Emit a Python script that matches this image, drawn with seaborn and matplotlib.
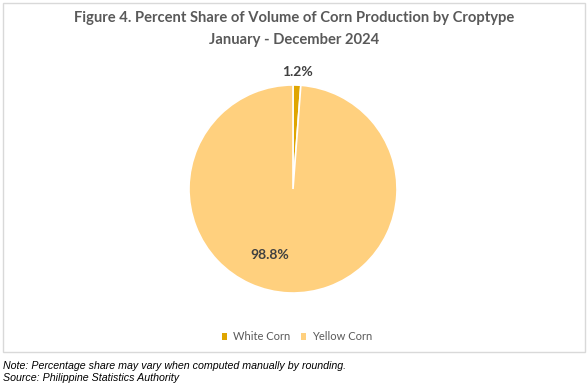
import matplotlib
matplotlib.use("Agg")
import matplotlib.pyplot as plt
import seaborn as sns
import numpy as np
from matplotlib.patches import Rectangle

categories = ["White Corn", "Yellow Corn"]
shares = [1.2, 98.8]
colors = ["#DFA500", "#FFD07E"]

sns.set_theme(style="white")
plt.rcParams['font.family'] = ['Lato', 'DejaVu Sans']

W, H = 588, 388
fig = plt.figure(figsize=(W / 100, H / 100), dpi=100)
fig.patch.set_facecolor("white")

# border box
fig.add_artist(Rectangle((3 / W, 1 - 352 / H), 582 / W, 349 / H, transform=fig.transFigure,
                         fill=False, edgecolor="#D9D9D9", linewidth=1))

cx, cy, r = 293, 189, 104
ax = fig.add_axes([(cx - r) / W, (H - cy - r) / H, 2 * r / W, 2 * r / H])
wedges, _ = ax.pie(shares, colors=colors, startangle=90, counterclock=False,
                   wedgeprops=dict(edgecolor="white", linewidth=1.2), radius=1.0)
ax.set_xlim(-1, 1)
ax.set_ylim(-1, 1)
ax.set_aspect("equal")
ax.axis("off")

# data labels
lab_kw = dict(fontsize=10, fontweight="bold", color="#404040", ha="center", va="center")
theta1 = np.deg2rad(90 - 360 * shares[0] / 100 / 2)
ax.text(1.13 * np.cos(theta1), 1.13 * np.sin(theta1), f"{shares[0]:.1f}%", **lab_kw)
ax.text(-0.22, -0.635, f"{shares[1]:.1f}%", **lab_kw)

fig.text(0.5, 1 - 18 / H, "Figure 4. Percent Share of Volume of Corn Production by Croptype",
         ha="center", va="center", fontsize=10.6, fontweight="bold", color="#595959")
fig.text(0.5, 1 - 40 / H, "January - December 2024",
         ha="center", va="center", fontsize=10.6, fontweight="bold", color="#595959")

# legend
handles = [Rectangle((0, 0), 1, 1, facecolor=c, edgecolor="none") for c in colors]
fig.legend(handles, categories, loc="center", bbox_to_anchor=(297 / W, 1 - 337 / H),
           ncol=2, frameon=False, fontsize=8, handlelength=0.45, handleheight=0.5,
           handletextpad=0.5, columnspacing=1.0, labelcolor="#595959")

note_kw = dict(ha="left", va="center", fontsize=7.7, style="italic", color="#000000",
               family=["Liberation Sans", "DejaVu Sans"])
fig.text(3 / W, 1 - 366 / H, "Note: Percentage share may vary when computed manually by rounding.", **note_kw)
fig.text(3 / W, 1 - 378 / H, "Source: Philippine Statistics Authority", **note_kw)

fig.savefig("out.png", dpi=100)
